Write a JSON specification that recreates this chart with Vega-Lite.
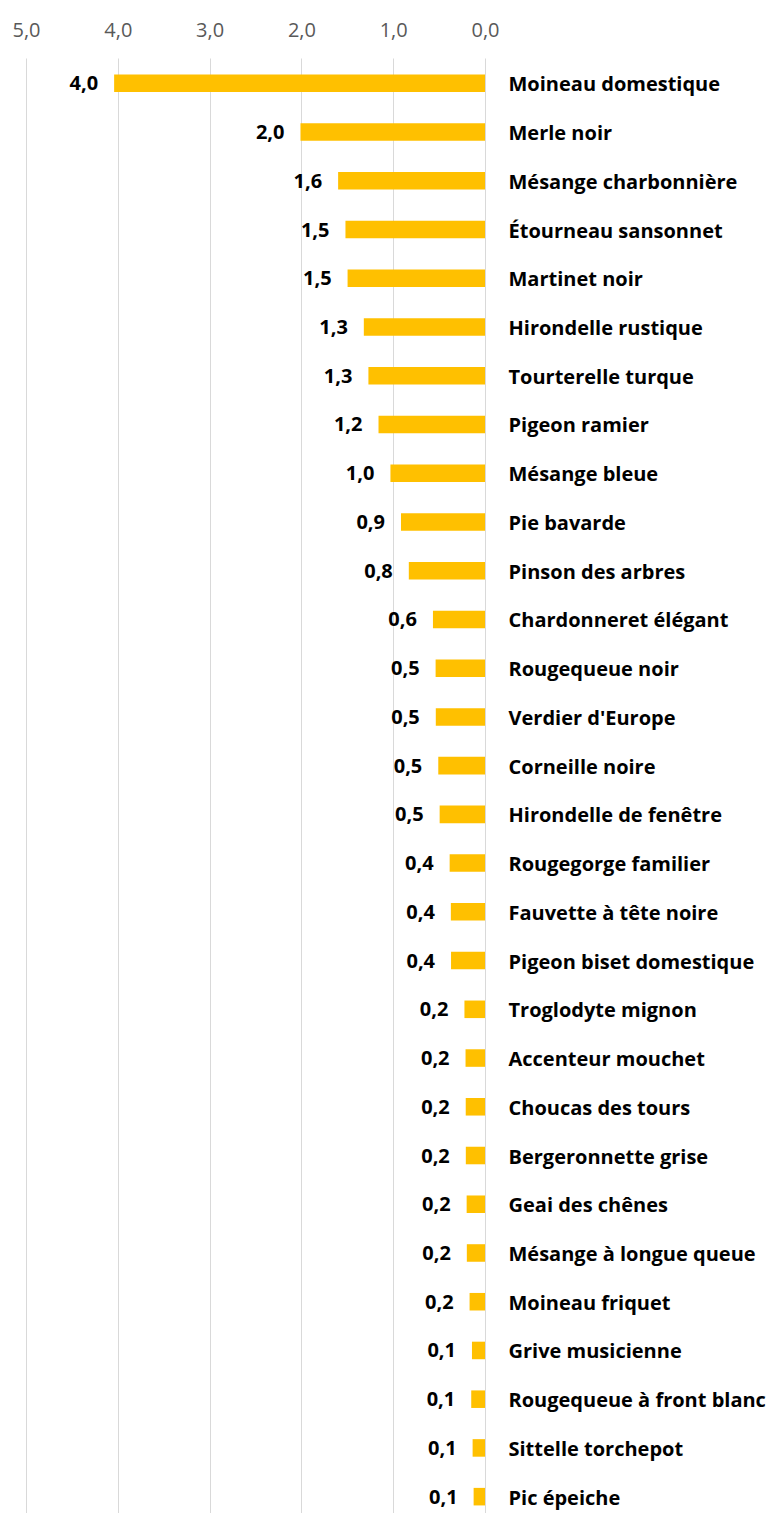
{
  "$schema": "https://vega.github.io/schema/vega-lite/v6.json",
  "autosize": {"type": "none"},
  "padding": {"left": 26, "top": 58, "right": 288, "bottom": 0},
  "width": 459,
  "height": 1464,
  "background": "white",
  "config": {
    "locale": {"number": {"decimal": ",", "thousands": " ", "grouping": [3], "currency": ["", " €"]}},
    "view": {"stroke": null},
    "font": "Open Sans"
  },
  "data": {"values": [
    {"espece": "Moineau domestique", "valeur": 4.04},
    {"espece": "Merle noir", "valeur": 2.01},
    {"espece": "Mésange charbonnière", "valeur": 1.6},
    {"espece": "Étourneau sansonnet", "valeur": 1.52},
    {"espece": "Martinet noir", "valeur": 1.497},
    {"espece": "Hirondelle rustique", "valeur": 1.32},
    {"espece": "Tourterelle turque", "valeur": 1.27},
    {"espece": "Pigeon ramier", "valeur": 1.16},
    {"espece": "Mésange bleue", "valeur": 1.03},
    {"espece": "Pie bavarde", "valeur": 0.915},
    {"espece": "Pinson des arbres", "valeur": 0.83},
    {"espece": "Chardonneret élégant", "valeur": 0.567},
    {"espece": "Rougequeue noir", "valeur": 0.538},
    {"espece": "Verdier d'Europe", "valeur": 0.536},
    {"espece": "Corneille noire", "valeur": 0.509},
    {"espece": "Hirondelle de fenêtre", "valeur": 0.494},
    {"espece": "Rougegorge familier", "valeur": 0.385},
    {"espece": "Fauvette à tête noire", "valeur": 0.372},
    {"espece": "Pigeon biset domestique", "valeur": 0.37},
    {"espece": "Troglodyte mignon", "valeur": 0.224},
    {"espece": "Accenteur mouchet", "valeur": 0.212},
    {"espece": "Choucas des tours", "valeur": 0.21},
    {"espece": "Bergeronnette grise", "valeur": 0.209},
    {"espece": "Geai des chênes", "valeur": 0.2},
    {"espece": "Mésange à longue queue", "valeur": 0.198},
    {"espece": "Moineau friquet", "valeur": 0.168},
    {"espece": "Grive musicienne", "valeur": 0.142},
    {"espece": "Rougequeue à front blanc", "valeur": 0.15},
    {"espece": "Sittelle torchepot", "valeur": 0.135},
    {"espece": "Pic épeiche", "valeur": 0.124}
  ]},
  "encoding": {
    "y": {
      "field": "espece", "type": "nominal", "sort": null,
      "scale": {"paddingInner": 0.64, "paddingOuter": 0.34},
      "axis": {
        "orient": "right", "title": null, "domain": false, "ticks": false, "tickSize": 0,
        "labelPadding": 23, "labelOffset": 2, "labelFont": "Open Sans", "labelFontSize": 20, "labelFontWeight": "bold",
        "labelColor": "#000000", "labelAlign": "left", "labelLimit": 300
      }
    },
    "x": {
      "field": "valeur", "type": "quantitative",
      "scale": {"domain": [0, 5], "reverse": true, "nice": false},
      "axis": {
        "orient": "top", "title": null, "domain": false, "ticks": false, "tickSize": 0,
        "values": [0, 1, 2, 3, 4, 5], "format": ".1f",
        "labelPadding": 18, "labelFont": "Open Sans", "labelFontSize": 20,
        "labelColor": "#595959", "labelFlush": false,
        "grid": true, "gridColor": "#D9D9D9", "gridWidth": 1
      }
    }
  },
  "layer": [
    {"mark": {"type": "bar", "color": "#FFC000"}},
    {
      "mark": {"type": "text", "align": "right", "baseline": "middle", "dx": -16, "dy": 1, "font": "Open Sans", "fontSize": 20, "fontWeight": "bold", "color": "#000000"},
      "encoding": {"text": {"field": "valeur", "type": "quantitative", "format": ".1f"}}
    }
  ]
}
